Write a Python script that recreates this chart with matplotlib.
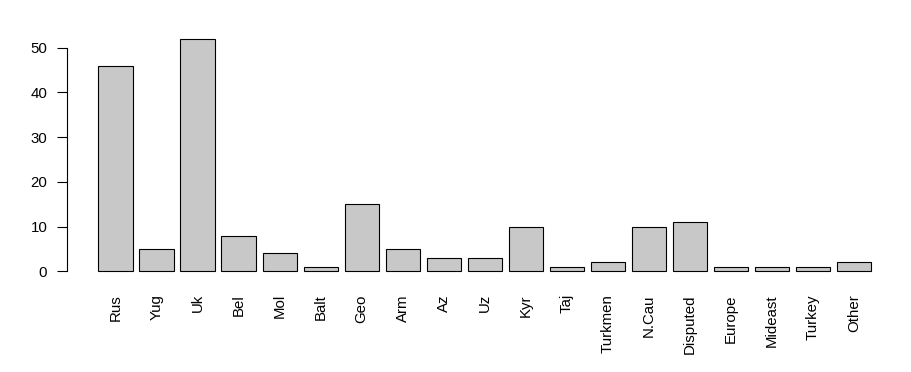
import matplotlib

matplotlib.use("agg")
from matplotlib import pyplot as plt
import numpy as np

plt.rcParams["font.family"] = ["Liberation Sans", "DejaVu Sans"]

regions = ["Rus", "Yug", "Uk", "Bel", "Mol", "Balt", "Geo", "Arm", "Az", "Uz",
           "Kyr", "Taj", "Turkmen", "N.Cau", "Disputed", "Europe", "Mideast",
           "Turkey", "Other"]
counts = [46, 5, 52, 8, 4, 1, 15, 5, 3, 3, 10, 1, 2, 10, 11, 1, 1, 1, 2]
yticks = [0, 10, 20, 30, 40, 50]

# R-style barplot geometry: width 1, space 0.2
width = 1.0
space = 0.2
left = space + np.arange(len(counts)) * (width + space)
centers = left + width / 2

fig = plt.figure(figsize=(9.12, 3.72), dpi=100)
ax = fig.add_axes([0.074, 0.2446, 0.915, 0.676])

ax.bar(centers, counts, width=width, color="#c8c8c8", edgecolor="black",
       linewidth=0.8)

span = left[-1] + width - left[0]
ax.set_xlim(left[0] - 0.04 * span, left[-1] + width + 0.04 * span)
ymax = max(counts) * 1.04
ax.set_ylim(-0.04 * ymax, ymax)

ax.set_xticks(centers)
ax.set_xticklabels(regions, rotation=90, fontsize=10.8)
ax.tick_params(axis="x", length=0, pad=9.5)

ax.set_yticks(yticks)
ax.set_yticklabels([str(t) for t in yticks], fontsize=10.8)
ax.tick_params(axis="y", length=7, width=0.8, pad=7.5)

for side in ["top", "right", "bottom"]:
    ax.spines[side].set_visible(False)
ax.spines["left"].set_bounds(0, 50)
ax.spines["left"].set_linewidth(0.8)

fig.savefig("out.png", dpi=100)
